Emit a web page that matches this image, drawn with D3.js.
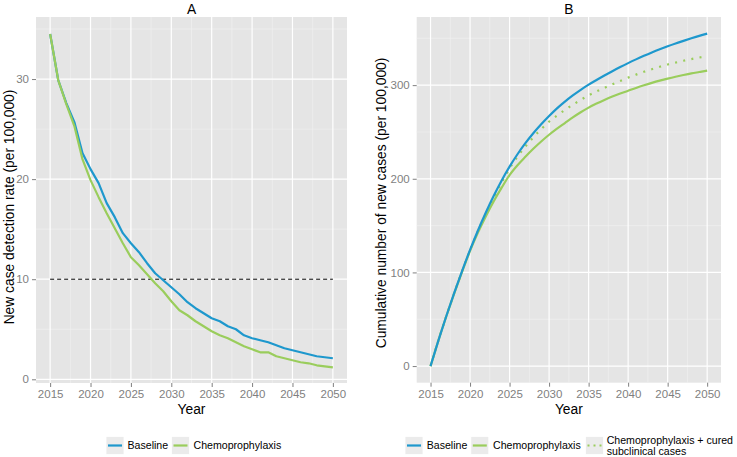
<!DOCTYPE html>
<html>
<head>
<meta charset="utf-8">
<script src="https://cdn.jsdelivr.net/npm/d3@7"></script>
<style>
  body { margin: 0; background: #fff; }
  svg { display: block; font-family: "Liberation Sans", Arial, sans-serif; }
</style>
</head>
<body>
<svg id="chart" width="737" height="457"></svg>
<script>
// ---------- data ----------
const years = d3.range(2015, 2051);
const xTicks = [2015, 2020, 2025, 2030, 2035, 2040, 2045, 2050];

// Panel A: new case detection rate (per 100,000)
const rateBaseline = [34.5, 29.9, 27.6, 25.7, 22.6, 21.0, 19.6, 17.6, 16.2, 14.6,
  13.6, 12.7, 11.6, 10.6, 9.9, 9.2, 8.5, 7.7, 7.1, 6.6,
  6.1, 5.8, 5.3, 5.0, 4.4, 4.1, 3.9, 3.7, 3.4, 3.1,
  2.9, 2.7, 2.5, 2.3, 2.2, 2.1];
const rateChemo = [34.5, 29.9, 27.5, 25.3, 22.0, 19.9, 18.2, 16.6, 15.1, 13.6,
  12.2, 11.4, 10.5, 9.6, 8.8, 7.8, 6.9, 6.4, 5.8, 5.3,
  4.8, 4.4, 4.1, 3.7, 3.3, 3.0, 2.7, 2.7, 2.3, 2.1,
  1.9, 1.7, 1.6, 1.4, 1.3, 1.2];
const rateTarget = 10;
const yTicksA = [0, 10, 20, 30];

// Panel B: cumulative number of new cases (per 100,000)
const cumBaseline = [0, 27.5, 53.5, 78.2, 101.7, 124, 144.8, 164, 181.8, 198.2,
  213, 226.2, 238, 248.6, 258.2, 267, 275.2, 282.4, 289, 295,
  300.5, 305.5, 310.3, 314.9, 319.3, 323.5, 327.5, 331.3, 334.9, 338.3,
  341.5, 344.5, 347.3, 350, 352.6, 355];
const cumChemo = [0, 27.4, 53.2, 77.6, 100.8, 123, 142.5, 160, 176, 190.5,
  204, 214.5, 223.5, 232, 239.8, 247, 253.5, 259.5, 265.5, 271,
  276, 280.3, 284.2, 287.8, 291, 294, 297, 299.8, 302.4, 304.8,
  307, 309, 310.8, 312.5, 314, 315.5];
const cumChemoCured = [0, 27.5, 53.5, 78, 101.6, 124, 144.3, 163, 180, 196,
  211, 223.5, 234.5, 244.2, 253, 261, 267.5, 273.5, 279, 284.2,
  289, 293.2, 297.1, 300.8, 304.5, 308, 311.2, 314.2, 317, 319.6,
  322, 324.1, 326, 327.8, 329.5, 331];
const yTicksB = [0, 100, 200, 300];

const seriesNames = ["Baseline", "Chemoprophylaxis", "Chemoprophylaxis + cured subclinical cases"];

// ---------- style ----------
const BLUE = "#1e98cd";
const GREEN = "#9acd5c";
const PANEL = "#E5E5E5";
const MINOR = "#F2F2F2";
const GREY = "#7F7F7F";

const svg = d3.select("#chart");

function panel(opts) {
  const g = svg.append("g");
  const x = d3.scaleLinear().domain([2013.25, 2051.75]).range([opts.left, opts.right]);
  const y = d3.scaleLinear().domain(opts.yDomain).range([opts.bottom, opts.top]);

  g.append("rect").attr("x", opts.left).attr("y", opts.top)
    .attr("width", opts.right - opts.left).attr("height", opts.bottom - opts.top)
    .attr("fill", PANEL);

  // minor grid
  const xMinor = xTicks.slice(0, -1).map(t => t + 2.5);
  g.selectAll(".xmin").data(xMinor).join("line")
    .attr("x1", d => x(d)).attr("x2", d => x(d))
    .attr("y1", opts.top).attr("y2", opts.bottom)
    .attr("stroke", MINOR).attr("stroke-width", 0.6);
  g.selectAll(".ymin").data(opts.yMinor).join("line")
    .attr("y1", d => y(d)).attr("y2", d => y(d))
    .attr("x1", opts.left).attr("x2", opts.right)
    .attr("stroke", MINOR).attr("stroke-width", 0.6);
  // major grid
  g.selectAll(".xmaj").data(xTicks).join("line")
    .attr("x1", d => x(d)).attr("x2", d => x(d))
    .attr("y1", opts.top).attr("y2", opts.bottom)
    .attr("stroke", "#fff").attr("stroke-width", 1.2);
  g.selectAll(".ymaj").data(opts.yTicks).join("line")
    .attr("y1", d => y(d)).attr("y2", d => y(d))
    .attr("x1", opts.left).attr("x2", opts.right)
    .attr("stroke", "#fff").attr("stroke-width", 1.2);

  // axes
  const xAxis = g.append("g").attr("transform", `translate(0,${opts.bottom})`)
    .call(d3.axisBottom(x).tickValues(xTicks).tickFormat(d3.format("d")).tickSize(4).tickPadding(3));
  const yAxis = g.append("g").attr("transform", `translate(${opts.left},0)`)
    .call(d3.axisLeft(y).tickValues(opts.yTicks).tickFormat(d3.format("d")).tickSize(4).tickPadding(3));
  [xAxis, yAxis].forEach(a => {
    a.select(".domain").remove();
    a.selectAll(".tick line").attr("stroke", GREY).attr("stroke-width", 1);
    a.selectAll(".tick text").attr("fill", GREY).style("font-size", "11.5px")
      .style("font-family", '"Liberation Sans", Arial, sans-serif');
  });

  // titles
  g.append("text").attr("x", (opts.left + opts.right) / 2).attr("y", 13.5)
    .attr("text-anchor", "middle").style("font-size", "13.8px").text(opts.title);
  g.append("text").attr("x", (opts.left + opts.right) / 2).attr("y", 414)
    .attr("text-anchor", "middle").style("font-size", "13.8px").text("Year");
  g.append("text")
    .attr("transform", `translate(${opts.yTitleX},${opts.yTitleY}) rotate(-90)`)
    .attr("text-anchor", "middle").style("font-size", "13.8px").text(opts.yTitle);

  return { g, x, y };
}

// ----- Panel A -----
const A = panel({
  left: 36, right: 347, top: 17, bottom: 383,
  yDomain: [-0.37, 36.2], yTicks: yTicksA, yMinor: [5, 15, 25, 35],
  title: "A", yTitle: "New case detection rate (per 100,000)", yTitleX: 13.5, yTitleY: 207
});
A.g.append("line")
  .attr("x1", A.x(2015)).attr("x2", A.x(2050))
  .attr("y1", A.y(rateTarget)).attr("y2", A.y(rateTarget))
  .attr("stroke", "#000").attr("stroke-width", 1).attr("stroke-dasharray", "4,3");
const lineA = d3.line().x((d, i) => A.x(years[i])).y(d => A.y(d));
A.g.append("path").datum(rateBaseline).attr("d", lineA)
  .attr("fill", "none").attr("stroke", BLUE).attr("stroke-width", 2.2).attr("stroke-linejoin", "round");
A.g.append("path").datum(rateChemo).attr("d", lineA)
  .attr("fill", "none").attr("stroke", GREEN).attr("stroke-width", 2.2).attr("stroke-linejoin", "round");

// ----- Panel B -----
const B = panel({
  left: 416.7, right: 721, top: 17, bottom: 382.7,
  yDomain: [-17.75, 372.75], yTicks: yTicksB, yMinor: [50, 150, 250, 350],
  title: "B", yTitle: "Cumulative number of new cases (per 100,000)", yTitleX: 386, yTitleY: 203
});
const lineB = d3.line().x((d, i) => B.x(years[i])).y(d => B.y(d)).curve(d3.curveMonotoneX);
B.g.append("path").datum(cumChemoCured).attr("d", lineB)
  .attr("fill", "none").attr("stroke", GREEN).attr("stroke-width", 2.2)
  .attr("stroke-dasharray", "2,6.3");
B.g.append("path").datum(cumChemo).attr("d", lineB)
  .attr("fill", "none").attr("stroke", GREEN).attr("stroke-width", 2.2);
B.g.append("path").datum(cumBaseline).attr("d", lineB)
  .attr("fill", "none").attr("stroke", BLUE).attr("stroke-width", 2.2);

// ----- Legends -----
function legendKey(g, x, color, dash) {
  g.append("rect").attr("x", x).attr("y", 436.5).attr("width", 18).attr("height", 18)
    .attr("fill", "#EBEBEB").attr("stroke", "#fff").attr("stroke-width", 0.8);
  g.append("line").attr("x1", x + 2).attr("x2", x + 16).attr("y1", 445.5).attr("y2", 445.5)
    .attr("stroke", color).attr("stroke-width", 2.2).attr("stroke-dasharray", dash || null);
}
function legendText(g, x, lines) {
  const t = g.append("text").style("font-size", "10.6px").attr("x", x);
  if (lines.length === 1) {
    t.attr("y", 449.3).text(lines[0]);
  } else {
    lines.forEach((l, i) => t.append("tspan").attr("x", x).attr("y", 443.5 + i * 11.2).text(l));
  }
}
const LA = svg.append("g");
legendKey(LA, 106, BLUE);
legendText(LA, 127.5, [seriesNames[0]]);
legendKey(LA, 171.5, GREEN);
legendText(LA, 193.5, [seriesNames[1]]);

const LB = svg.append("g");
legendKey(LB, 405, BLUE);
legendText(LB, 426.7, [seriesNames[0]]);
legendKey(LB, 470.8, GREEN);
legendText(LB, 493, [seriesNames[1]]);
legendKey(LB, 585.5, GREEN, "2,4");
legendText(LB, 606.7, ["Chemoprophylaxis + cured", "subclinical cases"]);
</script>
</body>
</html>
